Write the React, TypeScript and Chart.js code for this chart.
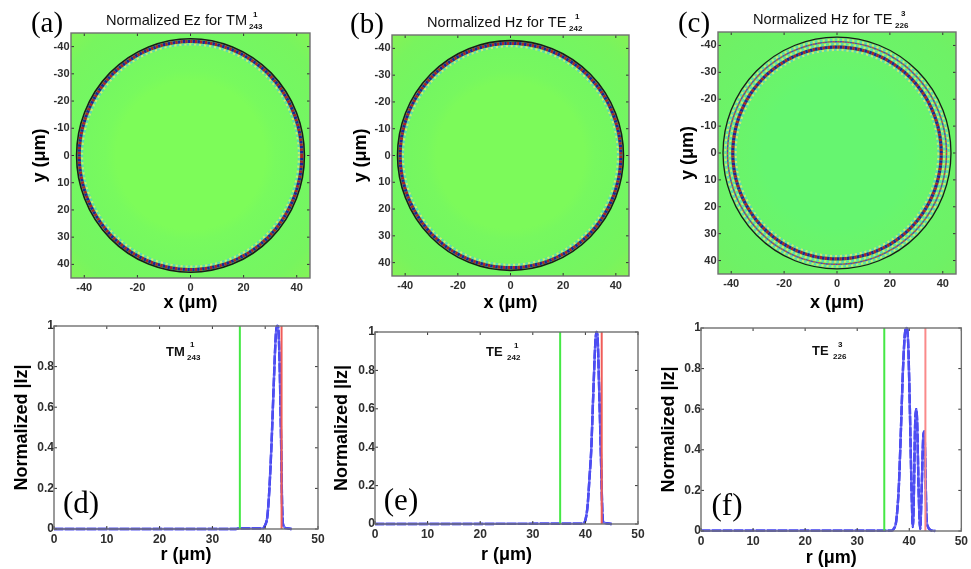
import React, { useEffect, useRef } from "react";
import { Chart, registerables } from "chart.js";

Chart.register(...registerables);

// ---------- data ----------
const fieldTicksX = [-40, -20, 0, 20, 40];
const fieldTicksY = [-40, -30, -20, -10, 0, 10, 20, 30, 40];
const profileTicksX = [0, 10, 20, 30, 40, 50];
const profileTicksY = [0, 0.2, 0.4, 0.6, 0.8, 1];

// ring radii (µm)
const boundaryA = [42.9];
const coreA = [41.9];
const fringeA = [40.8];
const thinA: number[] = [];
const boundaryB = [42.9];
const coreB = [41.9];
const fringeB = [40.8];
const thinB: number[] = [];
const boundaryC = [43.1];
const coreC = [39.4];
const fringeC = [38.3, 40.5, 42.2];
const thinC = [41.4];

// field background: radius (µm), colour
const fieldRadii = [0, 28, 32, 44, 56, 64];
const fieldColorsA = ["#7dfc59", "#7dfc59", "#78fa5e", "#74f762", "#77f55f", "#83f457"];
const fieldColorsB = ["#7cfa5a", "#7cfa5a", "#77f85f", "#73f662", "#78f45e", "#85f255"];
const fieldColorsC = ["#66f570", "#66f570", "#68f56d", "#6cf368", "#6ef166", "#72ef62"];

const radiusD = [0, 34.5, 35, 39.5, 40, 40.4, 40.8, 41.2, 41.6, 42, 42.2, 42.4, 42.7, 43, 43.2, 43.4, 44, 45];
const izD = [0, 0, 0.003, 0.003, 0.02, 0.06, 0.2, 0.42, 0.7, 0.95, 1, 1, 0.85, 0.45, 0.12, 0.02, 0.004, 0];
const radiusE = [0, 39.5, 40, 40.4, 40.8, 41.1, 41.5, 41.9, 42.1, 42.3, 42.6, 43, 43.2, 43.4, 44, 45];
const izE = [0, 0.002, 0.02, 0.09, 0.25, 0.38, 0.68, 0.95, 1, 0.98, 0.72, 0.3, 0.08, 0.01, 0.004, 0];
const radiusF = [0, 36.6, 37, 37.5, 38, 38.4, 38.8, 39.2, 39.5, 39.8, 40.1, 40.4, 40.7, 40.9, 41.1, 41.3, 41.5, 41.8, 42.1, 42.4, 42.7, 42.9, 43.15, 43.3, 43.6, 44, 45];
const izF = [0.002, 0.002, 0.01, 0.05, 0.22, 0.5, 0.8, 0.98, 1, 0.92, 0.62, 0.25, 0.02, 0.2, 0.5, 0.6, 0.55, 0.2, 0.01, 0.22, 0.47, 0.49, 0.25, 0.07, 0.02, 0.006, 0];

const greenLineR = [35.2, 35.2];
const redLineR = [43.1, 43.1];
const verticalSpan = [0, 1];

const letters = ["(a)", "(b)", "(c)", "(d)", "(e)", "(f)"];
const titlesMain = ["Normalized Ez for TM", "Normalized Hz for TE", "Normalized Hz for TE", "TM", "TE", "TE"];
const titlesSup = ["1", "1", "3", "1", "1", "3"];
const titlesSub = ["243", "242", "226", "243", "242", "226"];
const xTitles = ["x (μm)", "x (μm)", "x (μm)", "r (μm)", "r (μm)", "r (μm)"];
const yTitles = ["y (μm)", "y (μm)", "y (μm)", "Normalized |Iz|", "Normalized |Iz|", "Normalized |Iz|"];

// ---------- layout ----------
const W = 971;
const H = 569;
type Box = { cx: number; cy: number; cw: number; ch: number; l: number; r: number; t: number; b: number };
const boxes: Box[] = [
  { cx: 0, cy: 0, cw: 330, ch: 318, l: 71, r: 310, t: 33, b: 278 },
  { cx: 330, cy: 0, cw: 320, ch: 318, l: 392, r: 629, t: 35, b: 276 },
  { cx: 650, cy: 0, cw: 321, ch: 318, l: 718, r: 956, t: 32, b: 274 },
  { cx: 0, cy: 318, cw: 330, ch: 251, l: 54, r: 318, t: 326, b: 529 },
  { cx: 330, cy: 318, cw: 320, ch: 251, l: 375, r: 638, t: 332, b: 524 },
  { cx: 650, cy: 318, cw: 321, ch: 251, l: 701, r: 964, t: 328, b: 531 },
];
const yTitleCenter = [40, 361, 688, 22, 342, 669];
const xTitleCenter = [303, 303, 303, 555, 555, 558];
const letterPos = [[47, 24], [367, 25], [694, 24], [81, 505], [401, 502], [727, 507]];
const mainPos = [[106, 21], [427, 23], [753, 20], [166, 352], [486, 352], [812, 351]];
const supPos = [[253, 15], [575, 17], [901, 14], [190, 345], [514, 346], [838, 345]];
const subPos = [[249, 27], [569, 29], [895, 26], [187, 358], [507, 358], [833, 357]];
const outerLineColors = ["", "", "", "#f05c58", "#f05c58", "#fa8a8a"];

const SANS = '"Liberation Sans", Arial, sans-serif';
const SERIF = '"Liberation Serif", "Times New Roman", serif';

// ---------- plugins ----------
const fieldPlugin = {
  id: "field",
  beforeDatasetsDraw(chart: any) {
    const opt = chart.options.plugins.field;
    if (!opt) return;
    const { ctx, chartArea: a, scales } = chart;
    const x = scales.x;
    const y = scales.y;
    const cx = x.getPixelForValue(0);
    const cy = y.getPixelForValue(0);
    const sx = Math.abs(x.getPixelForValue(1) - cx);
    const sy = Math.abs(y.getPixelForValue(1) - cy);
    ctx.save();
    ctx.beginPath();
    ctx.rect(a.left, a.top, a.right - a.left, a.bottom - a.top);
    ctx.clip();
    const rMax = fieldRadii[fieldRadii.length - 1];
    const g = ctx.createRadialGradient(cx, cy, 0, cx, cy, rMax * sx);
    fieldRadii.forEach((r, i) => g.addColorStop(r / rMax, opt.colors[i]));
    ctx.fillStyle = g;
    ctx.fillRect(a.left, a.top, a.right - a.left, a.bottom - a.top);

    const ring = (r: number, w: number, color: string, dash: number[] = [], off = 0) => {
      ctx.beginPath();
      ctx.ellipse(cx, cy, r * sx, r * sy, 0, 0, Math.PI * 2);
      ctx.lineWidth = w;
      ctx.strokeStyle = color;
      ctx.setLineDash(dash);
      ctx.lineDashOffset = off;
      ctx.stroke();
    };
    const values = (i: number) => chart.data.datasets[i].data.map((p: any) => p.x);
    const [boundary, core, fringe, thin] = [values(0), values(1), values(2), values(3)];
    fringe.forEach((r: number) => {
      ring(r, 2, "#c8ec70", [2.5, 2.5], 0);
      ring(r, 2, "#58d8b8", [2.5, 2.5], 2.5);
    });
    thin.forEach((r: number) => {
      ring(r, 1.4, "#b84848", [2.5, 2.5], 0);
      ring(r, 1.4, "#4848b8", [2.5, 2.5], 2.5);
    });
    core.forEach((r: number) => {
      ring(r, 3.2, "#a82428", [2.5, 2.5], 0);
      ring(r, 3.2, "#1c2498", [2.5, 2.5], 2.5);
    });
    boundary.forEach((r: number) => ring(r, opt.boundaryWidth, "#1a1a1a"));
    ctx.restore();
  },
};

const framePlugin = {
  id: "frame",
  afterDraw(chart: any) {
    const { ctx, chartArea: a, scales } = chart;
    const i = chart.options.plugins.frame.index;
    const box = boxes[i];
    ctx.save();
    // inward ticks on all four sides
    ctx.strokeStyle = "#333";
    ctx.lineWidth = 1;
    ctx.beginPath();
    scales.x.ticks.forEach((t: any) => {
      const p = scales.x.getPixelForValue(t.value);
      ctx.moveTo(p, a.top);
      ctx.lineTo(p, a.top + 3);
      ctx.moveTo(p, a.bottom);
      ctx.lineTo(p, a.bottom - 3);
    });
    scales.y.ticks.forEach((t: any) => {
      const p = scales.y.getPixelForValue(t.value);
      ctx.moveTo(a.left, p);
      ctx.lineTo(a.left + 3, p);
      ctx.moveTo(a.right, p);
      ctx.lineTo(a.right - 3, p);
    });
    ctx.stroke();
    ctx.strokeStyle = "#707070";
    ctx.lineWidth = 1.4;
    ctx.strokeRect(a.left, a.top, a.right - a.left, a.bottom - a.top);

    // labels
    ctx.textBaseline = "middle";
    ctx.textAlign = "center";
    ctx.fillStyle = "#000";
    ctx.font = `${i < 3 ? 29 : 31}px ${SERIF}`;
    ctx.fillText(letters[i], letterPos[i][0] - box.cx, letterPos[i][1] - box.cy);
    ctx.textAlign = "left";
    ctx.fillStyle = "#111";
    ctx.font = i < 3 ? `14.6px ${SANS}` : `bold 13px ${SANS}`;
    ctx.fillText(titlesMain[i], mainPos[i][0] - box.cx, mainPos[i][1] - box.cy);
    ctx.font = `bold 8px ${SANS}`;
    ctx.fillText(titlesSup[i], supPos[i][0] - box.cx, supPos[i][1] - box.cy);
    ctx.fillText(titlesSub[i], subPos[i][0] - box.cx, subPos[i][1] - box.cy);
    ctx.restore();
  },
};

// ---------- chart config ----------
function axes(i: number, xMin: number, xMax: number, yMin: number, yMax: number, xt: number[], yt: number[], reverse: boolean) {
  const box = boxes[i];
  const tick = { color: "#2e2e2e", font: { family: SANS, size: i < 3 ? 11 : 12, weight: "bold" as const }, autoSkip: false, maxRotation: 0 };
  const titleFont = { family: SANS, size: 18, weight: "bold" as const };
  return {
    x: {
      type: "linear",
      min: xMin,
      max: xMax,
      grid: { display: false, drawTicks: false },
      border: { display: false },
      ticks: { ...tick, padding: 3 },
      afterBuildTicks: (s: any) => { s.ticks = xt.map((value) => ({ value })); },
      afterFit: (s: any) => { s.height = box.cy + box.ch - box.b; },
      title: {
        display: true,
        text: xTitles[i],
        color: "#000",
        font: titleFont,
        padding: { top: 0, bottom: box.cy + box.ch - xTitleCenter[i] - 10.8 },
      },
    },
    y: {
      type: "linear",
      reverse,
      min: yMin,
      max: yMax,
      grid: { display: false, drawTicks: false },
      border: { display: false },
      ticks: { ...tick, padding: i < 3 ? 1.5 : 0, callback: (v: any) => String(+Number(v).toFixed(1)) },
      afterBuildTicks: (s: any) => { s.ticks = yt.map((value) => ({ value })); },
      afterFit: (s: any) => { s.width = box.l - box.cx; },
      title: {
        display: true,
        text: yTitles[i],
        color: "#000",
        font: titleFont,
        padding: { top: yTitleCenter[i] - box.cx - 10.8, bottom: 0 },
      },
    },
  };
}

function base(i: number) {
  const box = boxes[i];
  return {
    responsive: false,
    animation: false,
    layout: { padding: { top: box.t - box.cy, right: box.cx + box.cw - box.r, left: 0, bottom: 0 } },
  };
}

function fieldConfig(i: number, boundary: number[], core: number[], fringe: number[], thin: number[], colors: string[], boundaryWidth: number) {
  const ds = (label: string, arr: number[]) => ({
    label,
    data: arr.map((r) => ({ x: r, y: 0 })),
    pointRadius: 0,
    showLine: false,
  });
  return {
    type: "scatter",
    data: { datasets: [ds("boundary", boundary), ds("core", core), ds("fringe", fringe), ds("thin", thin)] },
    options: {
      ...base(i),
      scales: axes(i, -45, 45, -45, 45, fieldTicksX, fieldTicksY, true),
      plugins: { legend: { display: false }, tooltip: { enabled: false }, field: { colors, boundaryWidth }, frame: { index: i } },
    },
    plugins: [fieldPlugin, framePlugin],
  };
}

function zip(a: number[], b: number[]) {
  return a.map((x, k) => ({ x, y: b[k] }));
}

function profileConfig(i: number, r: number[], iz: number[]) {
  const line = { pointRadius: 0, showLine: true, cubicInterpolationMode: "monotone" as const };
  return {
    type: "scatter",
    data: {
      datasets: [
        { ...line, label: "inner", data: zip(greenLineR, verticalSpan), borderColor: "#45e845", borderWidth: 2 },
        { ...line, label: "outer", data: zip(redLineR, verticalSpan), borderColor: outerLineColors[i], borderWidth: 2 },
        { ...line, clip: 2, label: "Iz", data: zip(r, iz), borderColor: "rgba(90,90,245,0.85)", borderWidth: 2.4 },
        { ...line, clip: 2, label: "Iz dash", data: zip(r, iz), borderColor: "rgba(0,0,225,1)", borderWidth: 2.4, borderDash: [9, 2] },
      ],
    },
    options: {
      ...base(i),
      scales: axes(i, 0, 50, 0, 1, profileTicksX, profileTicksY, false),
      plugins: { legend: { display: false }, tooltip: { enabled: false }, frame: { index: i } },
    },
    plugins: [framePlugin],
  };
}

const configs = [
  () => fieldConfig(0, boundaryA, coreA, fringeA, thinA, fieldColorsA, 1.6),
  () => fieldConfig(1, boundaryB, coreB, fringeB, thinB, fieldColorsB, 1.6),
  () => fieldConfig(2, boundaryC, coreC, fringeC, thinC, fieldColorsC, 1.3),
  () => profileConfig(3, radiusD, izD),
  () => profileConfig(4, radiusE, izE),
  () => profileConfig(5, radiusF, izF),
];

function Panel({ index }: { index: number }) {
  const ref = useRef<HTMLCanvasElement>(null);
  const box = boxes[index];
  useEffect(() => {
    const chart = new Chart(ref.current as any, configs[index]() as any);
    return () => chart.destroy();
  }, [index]);
  return (
    <canvas
      ref={ref}
      width={box.cw}
      height={box.ch}
      style={{ position: "absolute", left: box.cx, top: box.cy, width: box.cw, height: box.ch, filter: "blur(0.7px)" }}
    />
  );
}

export default function App() {
  return (
    <div style={{ position: "fixed", left: 0, top: 0, width: W, height: H, background: "#fff", overflow: "hidden" }}>
      {boxes.map((_, i) => (
        <Panel key={i} index={i} />
      ))}
    </div>
  );
}
